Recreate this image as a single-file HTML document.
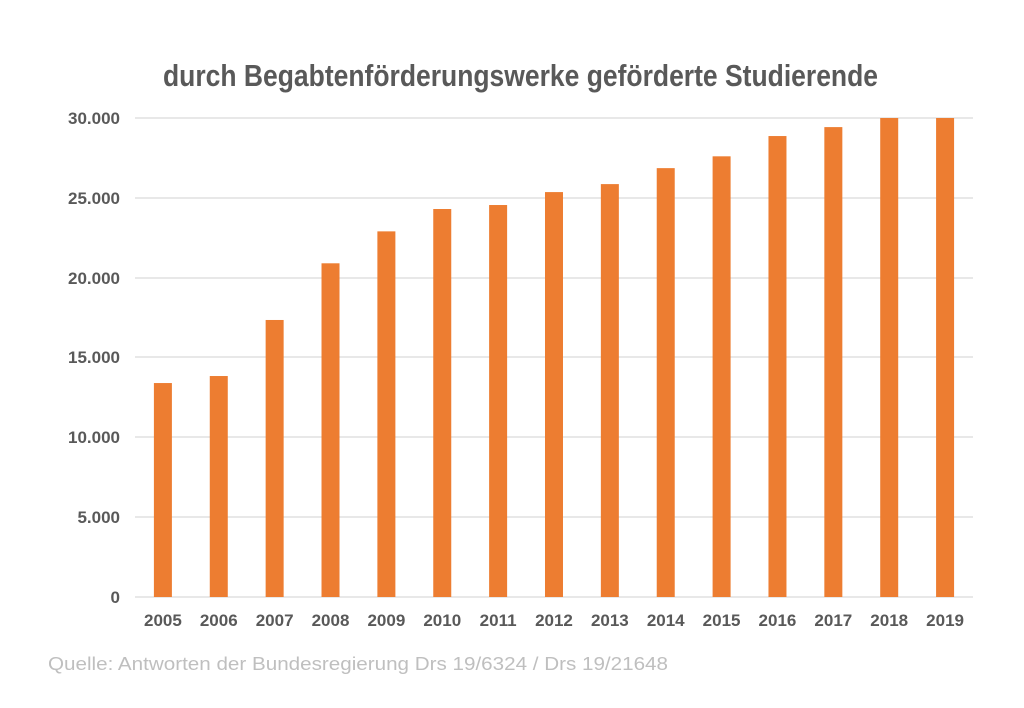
<!DOCTYPE html>
<html><head><meta charset="utf-8"><style>body{margin:0;background:#fff}</style></head>
<body>
<svg width="1024" height="703" xmlns="http://www.w3.org/2000/svg" font-family="Liberation Sans, sans-serif">
<rect width="1024" height="703" fill="#fff"/>
<text x="163" y="86" font-size="31" font-weight="bold" fill="#595959" textLength="715" lengthAdjust="spacingAndGlyphs">durch  Begabtenförderungswerke geförderte Studierende</text>
<g stroke="#d9d9d9" stroke-width="1.3">
<line x1="135" x2="973" y1="118" y2="118"/><line x1="135" x2="973" y1="198" y2="198"/>
<line x1="135" x2="973" y1="278" y2="278"/><line x1="135" x2="973" y1="357" y2="357"/>
<line x1="135" x2="973" y1="437" y2="437"/><line x1="135" x2="973" y1="517" y2="517"/>
<line x1="135" x2="973" y1="597" y2="597"/>
</g>
<g font-size="17" font-weight="bold" fill="#595959" text-anchor="end">
<text x="120" y="124">30.000</text><text x="120" y="204">25.000</text><text x="120" y="284">20.000</text>
<text x="120" y="363">15.000</text><text x="120" y="443">10.000</text><text x="120" y="523">5.000</text>
<text x="120" y="603">0</text>
</g>
<g fill="#ed7d31" id="bars"></g>
<g font-size="17" font-weight="bold" fill="#595959" text-anchor="middle" id="xl"></g>
<text x="48" y="670" font-size="18" fill="#bfbfbf" textLength="620" lengthAdjust="spacingAndGlyphs">Quelle: Antworten der Bundesregierung Drs 19/6324 / Drs 19/21648</text>
<script>
var v=[13400,13840,17350,20900,22900,24300,24550,25360,25860,26860,27600,28870,29430,30000,30000];
var b=document.getElementById('bars'),x=document.getElementById('xl'),ns='http://www.w3.org/2000/svg';
v.forEach(function(d,i){var c=162.9+i*55.87,h=d*479/30000;
var r=document.createElementNS(ns,'rect');r.setAttribute('x',c-9);r.setAttribute('width',18);r.setAttribute('y',597-h);r.setAttribute('height',h);b.appendChild(r);
var t=document.createElementNS(ns,'text');t.setAttribute('x',c);t.setAttribute('y',626);t.textContent=2005+i;x.appendChild(t);});
</script>
</svg>
</body></html>
